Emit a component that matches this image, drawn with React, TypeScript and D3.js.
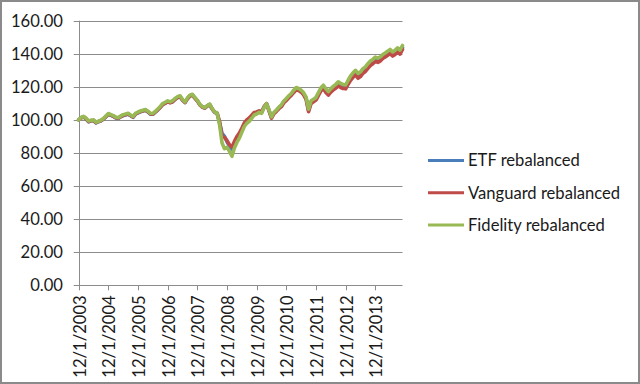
import React from "react";
import * as d3 from "d3";

const tickLabels = ["12/1/2003","12/1/2004","12/1/2005","12/1/2006","12/1/2007","12/1/2008","12/1/2009","12/1/2010","12/1/2011","12/1/2012","12/1/2013"];
const yTicks = [0, 20, 40, 60, 80, 100, 120, 140, 160];
const seriesNames = ["ETF rebalanced", "Vanguard rebalanced", "Fidelity rebalanced"];
const colors = ["#4A7EBB", "#BE4B48", "#98B954"];

const etf = [100.0,101.3,101.9,100.5,98.9,99.5,99.6,98.2,98.9,99.4,100.5,101.9,103.4,102.8,102.1,101.2,100.9,101.9,102.6,103.0,103.5,102.5,101.6,103.5,104.2,104.9,105.4,105.8,104.8,103.5,103.4,104.7,106.1,107.7,109.4,110.2,111.0,110.5,111.1,112.5,113.6,114.1,112.0,110.5,112.9,114.6,115.1,113.2,111.6,109.2,107.9,107.2,108.5,109.3,106.6,104.6,104.0,98.2,91.8,90.0,86.8,84.2,82.4,86.0,89.2,91.2,94.2,97.4,99.3,100.6,102.2,104.0,104.4,105.2,104.5,107.8,109.8,105.8,101.4,104.2,105.6,107.3,108.6,111.0,112.4,114.0,115.4,117.3,118.9,118.4,117.4,115.8,113.1,105.8,110.8,111.8,112.8,115.6,118.5,120.0,117.7,116.0,117.8,119.2,120.3,121.7,120.8,120.2,119.9,122.8,125.3,127.1,128.6,126.6,127.6,129.6,130.7,132.6,134.2,135.3,136.7,136.1,136.8,138.3,139.2,140.3,141.3,139.8,140.8,142.3,141.0,143.8];

const vanguard = [100.0,101.2,101.9,100.6,99.0,99.6,99.7,98.4,99.0,99.5,100.6,102.0,103.5,102.9,102.3,101.4,101.0,102.0,102.8,103.2,103.6,102.7,101.8,103.6,104.4,105.0,105.5,105.9,105.0,103.7,103.5,104.8,106.1,107.6,109.3,110.1,110.9,110.4,111.0,112.4,113.5,114.0,112.0,110.6,112.8,114.5,115.0,113.1,111.5,109.1,107.8,107.2,108.4,109.2,106.6,104.7,104.0,99.0,90.0,89.5,87.5,85.0,83.6,87.0,90.0,92.0,95.0,98.2,100.0,101.2,102.8,104.5,104.8,105.5,104.8,108.0,109.8,105.5,101.0,103.8,105.2,106.8,108.0,110.4,111.8,113.4,114.8,116.6,118.2,117.8,116.8,115.2,112.4,105.0,110.0,111.0,112.0,114.8,117.6,119.0,116.6,115.0,116.8,118.2,119.2,120.5,119.6,119.0,118.8,121.6,124.0,125.8,127.2,125.2,126.2,128.2,129.3,131.2,132.9,134.0,135.4,134.8,135.6,137.1,138.0,139.1,140.1,138.6,139.6,141.1,139.8,142.7];

const fidelity = [100.0,101.5,102.2,101.0,99.4,99.8,100.0,98.6,99.2,99.8,100.9,102.4,103.9,103.2,102.6,101.7,101.3,102.4,103.2,103.6,104.0,103.0,102.1,104.0,104.8,105.4,105.9,106.3,105.3,104.0,103.9,105.2,106.6,108.2,109.9,110.7,111.5,110.9,111.6,113.0,114.1,114.6,112.4,110.9,113.3,115.0,115.5,113.5,111.9,109.4,108.0,107.4,108.7,109.6,106.8,104.8,104.2,97.0,86.0,82.6,83.4,81.0,78.0,83.0,86.4,89.0,92.5,96.0,98.0,99.2,101.0,103.0,103.6,104.6,104.0,107.5,109.8,106.0,101.8,104.6,106.0,107.8,109.1,111.5,113.0,114.6,116.0,118.0,119.6,119.0,118.0,116.4,113.8,106.5,111.6,112.5,113.6,116.5,119.4,121.0,118.8,117.1,118.9,120.3,121.5,123.0,122.1,121.4,121.1,124.0,126.6,128.5,130.0,128.1,129.1,131.0,132.1,134.0,135.6,136.6,138.0,137.4,138.1,139.6,140.5,141.6,142.6,141.1,142.1,143.6,142.2,145.0];

const allSeries = [etf, vanguard, fidelity];

const W = 640, H = 384;
const plot = { left: 78.7, right: 402.5, top: 20.7, bottom: 285.3 };
const FONT = "Lato, 'Open Sans', sans-serif";
const FS = 16.6;

export default function App() {
  const n = fidelity.length;
  const x = d3.scaleLinear().domain([0, n - 1]).range([plot.left, plot.right]);
  const y = d3.scaleLinear().domain([0, 160]).range([plot.bottom, plot.top]);
  const line = d3.line<number>().x((_, i) => x(i)).y((d) => y(d));

  return (
    <svg width={W} height={H} style={{ position: "absolute", left: 0, top: 0, background: "#fff" }}>
      <rect x={0} y={0} width={W} height={H} fill="#fff" />
      <rect x={1} y={1} width={W - 2} height={H - 2} fill="none" stroke="#8a8a8a" strokeWidth={2} />
      {yTicks.map((t) => (
        <g key={t}>
          <line x1={plot.left - 5} x2={plot.right} y1={Math.round(y(t)) + 0.5} y2={Math.round(y(t)) + 0.5} stroke="#8c8c8c" strokeWidth={1} />
          <text x={63} y={y(t)} dy="0.36em" textAnchor="end" fontFamily={FONT} fontSize={FS} fill="#1a1a1a">
            {t.toFixed(2)}
          </text>
        </g>
      ))}
      <line x1={Math.round(plot.left) + 0.5} x2={Math.round(plot.left) + 0.5} y1={plot.top} y2={plot.bottom} stroke="#8c8c8c" />
      {tickLabels.map((lab, k) => {
        const xi = x(k * 12);
        return (
          <g key={lab}>
            <line x1={Math.round(xi) + 0.5} x2={Math.round(xi) + 0.5} y1={plot.bottom} y2={plot.bottom + 5} stroke="#8c8c8c" />
            <text
              transform={`translate(${xi + 1},${plot.bottom + 10}) rotate(-90)`}
              dy="0.36em"
              textAnchor="end"
              fontFamily={FONT}
              fontSize={FS}
              fill="#1a1a1a"
            >
              {lab}
            </text>
          </g>
        );
      })}
      {allSeries.map((s, k) => (
        <path key={k} d={line(s) || ""} fill="none" stroke={colors[k]} strokeWidth={3.6} strokeLinejoin="round" strokeLinecap="round" />
      ))}
      {seriesNames.map((name, k) => {
        const ly = 160.5 + k * 32.3;
        return (
          <g key={name}>
            <line x1={428} x2={464} y1={ly} y2={ly} stroke={colors[k]} strokeWidth={3} />
            <text x={468} y={ly} dy="0.36em" fontFamily={FONT} fontSize={FS} fill="#1a1a1a">
              {name}
            </text>
          </g>
        );
      })}
    </svg>
  );
}
